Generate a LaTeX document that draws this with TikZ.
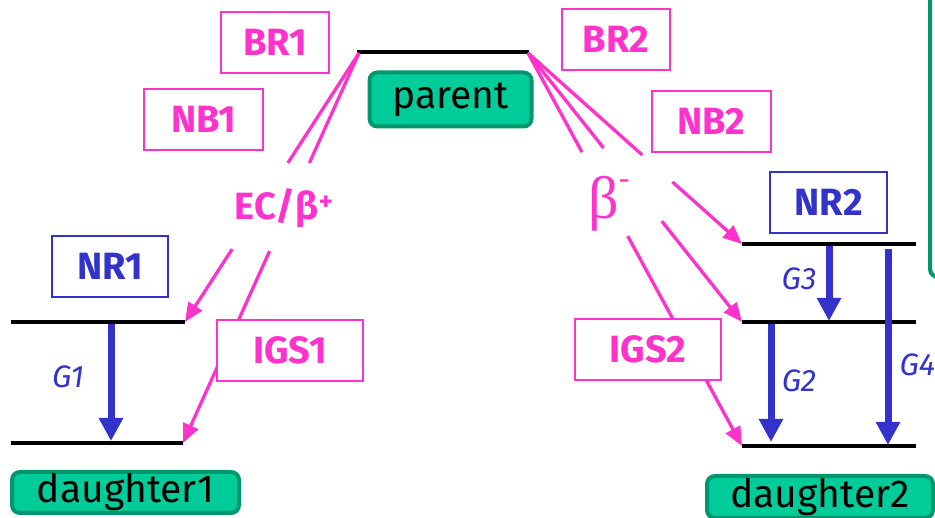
\documentclass[tikz,border=0pt]{standalone}
\usepackage{fontspec}
\setmainfont{Fira Sans}
\newfontfamily\betafont{Liberation Serif}
\usetikzlibrary{arrows.meta,calc}
\definecolor{pk}{RGB}{255,51,204}
\definecolor{bl}{RGB}{51,51,204}
\definecolor{gf}{RGB}{0,204,153}
\definecolor{gd}{RGB}{0,150,110}
\tikzset{
  pbox/.style={draw=pk, line width=1.6pt, fill=white, text=pk,
    font=\fontsize{38}{42}\selectfont\bfseries, minimum width=#1, minimum height=61pt, inner sep=0pt},
  nbox/.style={draw=bl, line width=2pt, fill=white, text=bl,
    font=\fontsize{38}{42}\selectfont\bfseries, minimum width=#1, minimum height=61pt, inner sep=0pt},
  gbox/.style={draw=gd, fill=gf, line width=4pt, rounded corners=8pt, text=black,
    font=\fontsize{39}{42}\selectfont, minimum width=#1, inner sep=0pt},
  level/.style={line width=4pt, black},
  decay/.style={pk, line width=3.3pt},
  decayarr/.style={pk, line width=3.3pt, -{Triangle[length=19pt,width=16pt]}},
  gamma/.style={bl, line width=7pt, -{Triangle[length=23pt,width=23pt]}},
  glabel/.style={text=bl, font=\itshape\fontsize{31}{34}\selectfont},
}
\begin{document}
\begin{tikzpicture}[x=1pt,y=-1pt]
\useasboundingbox (0,0) rectangle (935,518);

% right partial green box
\draw[draw=gd, line width=4pt, rounded corners=8pt] (930,-30) -- (930,277) -- (990,277);

% levels
\coordinate (P1) at (357,52); \coordinate (P2) at (529,52);
\coordinate (pL) at (359,53); \coordinate (pR) at (528,53);
\coordinate (L1a) at (11,322); \coordinate (L1b) at (185,322);
\coordinate (L0a) at (11,443); \coordinate (L0b) at (183,443);
\coordinate (R3a) at (742,244); \coordinate (R3b) at (916,244);
\coordinate (R2a) at (742,322); \coordinate (R2b) at (916,322);
\coordinate (R1a) at (742,446); \coordinate (R1b) at (916,446);

\draw[level] (P1) -- (P2);
\draw[level] (L1a) -- (L1b);
\draw[level] (L0a) -- (L0b);
\draw[level] (R3a) -- (R3b);
\draw[level] (R2a) -- (R2b);
\draw[level] (R1a) -- (R1b);

% decay lines, left
\draw[decay] (pL) -- ($(pL)!0.409!(L1b)$);
\draw[decayarr] ($(pL)!0.729!(L1b)$) -- (L1b);
\draw[decay] (pL) -- ($(pL)!0.282!(L0b)$);
\draw[decayarr] ($(pL)!0.508!(L0b)$) -- (L0b);
% decay lines, right
\draw[decay] (pR) -- ($(pR)!0.534!(R3a)$);
\draw[decayarr] ($(pR)!0.675!(R3a)$) -- (R3a);
\draw[decay] (pR) -- ($(pR)!0.353!(R2a)$);
\draw[decayarr] ($(pR)!0.625!(R2a)$) -- (R2a);
\draw[decay] (pR) -- ($(pR)!0.252!(R1a)$);
\draw[decayarr] ($(pR)!0.466!(R1a)$) -- (R1a);

% gamma transitions
\coordinate (g1s) at (111,324); \coordinate (g1e) at (111,441);
\coordinate (g3s) at (829,246); \coordinate (g3e) at (829,321);
\coordinate (g2s) at (771,324); \coordinate (g2e) at (771,442);
\coordinate (g4s) at (888,249); \coordinate (g4e) at (888,445);
\draw[gamma] (g1s) -- (g1e);
\draw[gamma] (g3s) -- (g3e);
\draw[gamma] (g2s) -- (g2e);
\draw[gamma] (g4s) -- (g4e);

\node[glabel] (G1) at (68,377) {G1};
\node[glabel] (G3) at (799,279) {G3};
\node[glabel] (G2) at (799,381) {G2};
\node[glabel, anchor=west] (G4) at (896,365) {G4};

% boxes
\node[pbox=108pt] (BR1) at (275,42.5) {BR1};
\node[pbox=119pt] (NB1) at (203.5,119.5) {NB1};
\node[pbox=108pt] (BR2) at (616,39.5) {BR2};
\node[pbox=119pt] (NB2) at (711.5,121.5) {NB2};
\node[pbox=146pt] (IGS1) at (290,350.5) {IGS1};
\node[pbox=146pt] (IGS2) at (648,349.5) {IGS2};
\node[nbox=116pt] (NR1) at (110,266.5) {NR1};
\node[nbox=117pt] (NR2) at (828.5,202.5) {NR2};

\node[gbox=162pt, minimum height=54pt] (parent) at (450.5,99.5) {parent};
\node[gbox=227pt, minimum height=41pt] (d1) at (125.5,492.5) {daughter1};
\node[gbox=226pt, minimum height=42pt] (d2) at (820,497) {daughter2};

% decay mode labels
\node[text=pk, font=\fontsize{38}{42}\selectfont\bfseries] (ec) at (284,208) {EC/β\textsuperscript{+}};
\node[text=pk, font=\betafont\fontsize{60}{64}\selectfont, inner sep=0pt] (bm) at (609,204)
  {β\raisebox{0.5em}{\fontsize{32}{32}\selectfont -}};
\end{tikzpicture}
\end{document}
